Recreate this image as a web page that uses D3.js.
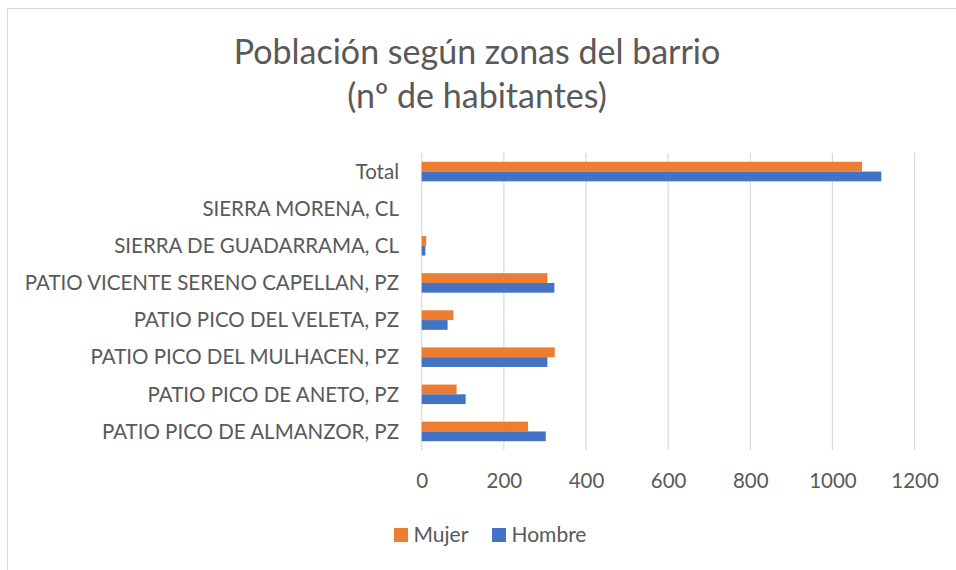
<!DOCTYPE html>
<html><head><meta charset="utf-8">
<script src="https://cdn.jsdelivr.net/npm/d3@7"></script>
<style>body{margin:0;background:#fff;} text{font-family:Lato, "Open Sans", sans-serif;}</style>
</head><body><svg id="c" width="956" height="570"></svg>
<script>
const categories = ["Total","SIERRA MORENA, CL","SIERRA DE GUADARRAMA, CL","PATIO VICENTE SERENO CAPELLAN, PZ","PATIO PICO DEL VELETA, PZ","PATIO PICO DEL MULHACEN, PZ","PATIO PICO DE ANETO, PZ","PATIO PICO DE ALMANZOR, PZ"];
const mujer = [1072, 0, 11, 306, 77, 324, 85, 259];
const hombre = [1119, 0, 9, 323, 63, 306, 107, 302];
const seriesNames = ["Mujer","Hombre"];
const xTicks = [0,200,400,600,800,1000,1200];
const colors = ["#ED7D31","#4472C4"];

(function(){
const svg = d3.select("#c");
const FF = "Lato, sans-serif";
svg.append("rect").attr("x",7.5).attr("y",8.5).attr("width",960).attr("height",580)
  .attr("fill","#fff").attr("stroke","#d9d9d9").attr("stroke-width",1);

const pL = 421.7, pR = 914.6, pT = 153, pB = 450;
const x = d3.scaleLinear().domain([0,1200]).range([pL,pR]);
const y = d3.scaleBand().domain(categories).range([pT,pB]);
const inner = d3.scaleBand().domain(seriesNames).range([0,y.bandwidth()]).paddingInner(0).paddingOuter(0.9);

svg.append("text").attr("x",477).attr("y",64).attr("text-anchor","middle")
  .attr("font-size",34).attr("font-weight",400).attr("fill","#595959").text("Población según zonas del barrio");
svg.append("text").attr("x",477).attr("y",108).attr("text-anchor","middle")
  .attr("font-size",34).attr("font-weight",400).attr("fill","#595959").text("(nº de habitantes)");

svg.append("g").selectAll("line").data(xTicks).join("line")
  .attr("x1",d=>x(d)).attr("x2",d=>x(d)).attr("y1",pT).attr("y2",pB)
  .attr("stroke","#d9d9d9").attr("stroke-width",1.2);

const xAxis = d3.axisBottom(x).tickValues(xTicks).tickFormat(d3.format("d")).tickSize(0).tickPadding(0);
const gx = svg.append("g").attr("transform",`translate(0,${pB})`).call(xAxis);
gx.select(".domain").remove();
gx.selectAll("text").attr("font-size",20.5).attr("fill","#595959").attr("dy",0).attr("y",38)
  .style("font-family",FF);

const yAxis = d3.axisLeft(y).tickSize(0).tickPadding(0);
const gy = svg.append("g").attr("transform",`translate(399,0)`).call(yAxis);
gy.select(".domain").remove();
gy.selectAll("text").attr("font-size",20.5).attr("fill","#595959").attr("dy","0.35em")
  .style("font-family",FF);

[mujer, hombre].forEach((vals,si)=>{
  svg.append("g").selectAll("rect").data(categories).join("rect")
    .attr("x",x(0)).attr("y",(d)=>y(d)+inner(seriesNames[si]))
    .attr("width",(d,i)=>Math.max(0,x(vals[i])-x(0)))
    .attr("height",inner.bandwidth())
    .attr("fill",colors[si]);
});

const lx = [394, 492];
seriesNames.forEach((n,i)=>{
  svg.append("rect").attr("x",lx[i]).attr("y",528).attr("width",14).attr("height",14).attr("fill",colors[i]);
  svg.append("text").attr("x",lx[i]+19.5).attr("y",542).attr("font-size",21).attr("fill","#595959").text(n);
});
})();
</script></body></html>
